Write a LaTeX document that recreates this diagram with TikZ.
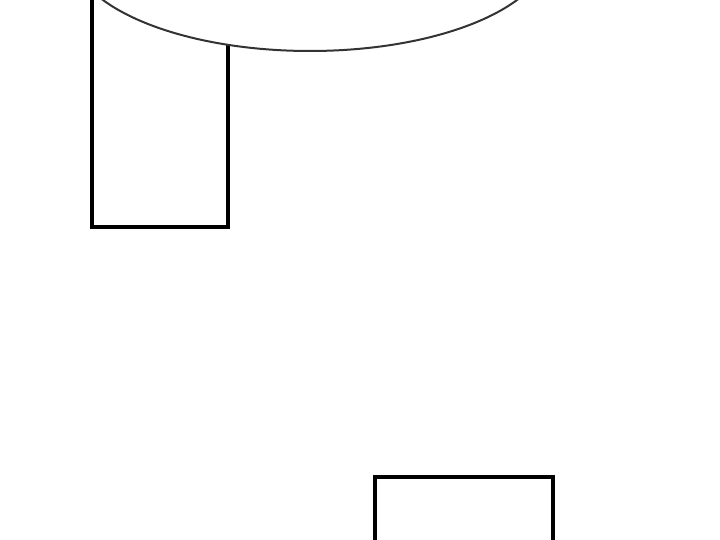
\documentclass[tikz,border=0pt]{standalone}
\usepackage{tikz}

\begin{document}
\begin{tikzpicture}[x=1pt,y=-1pt,
  box/.style={draw=black,line width=3.5pt},
  blob/.style={draw=black!80,fill=white,line width=2pt}]

  \useasboundingbox (0,0) rectangle (720,540);
  \clip (0,0) rectangle (720,540);

  % left box, partly hidden by the ellipse
  \draw[box] (92,-20) rectangle (228,227);
  \draw[blob] (310,-51) ellipse [x radius=239, y radius=102];

  % lower box
  \draw[box] (375,477) rectangle (553,560);
\end{tikzpicture}
\end{document}
